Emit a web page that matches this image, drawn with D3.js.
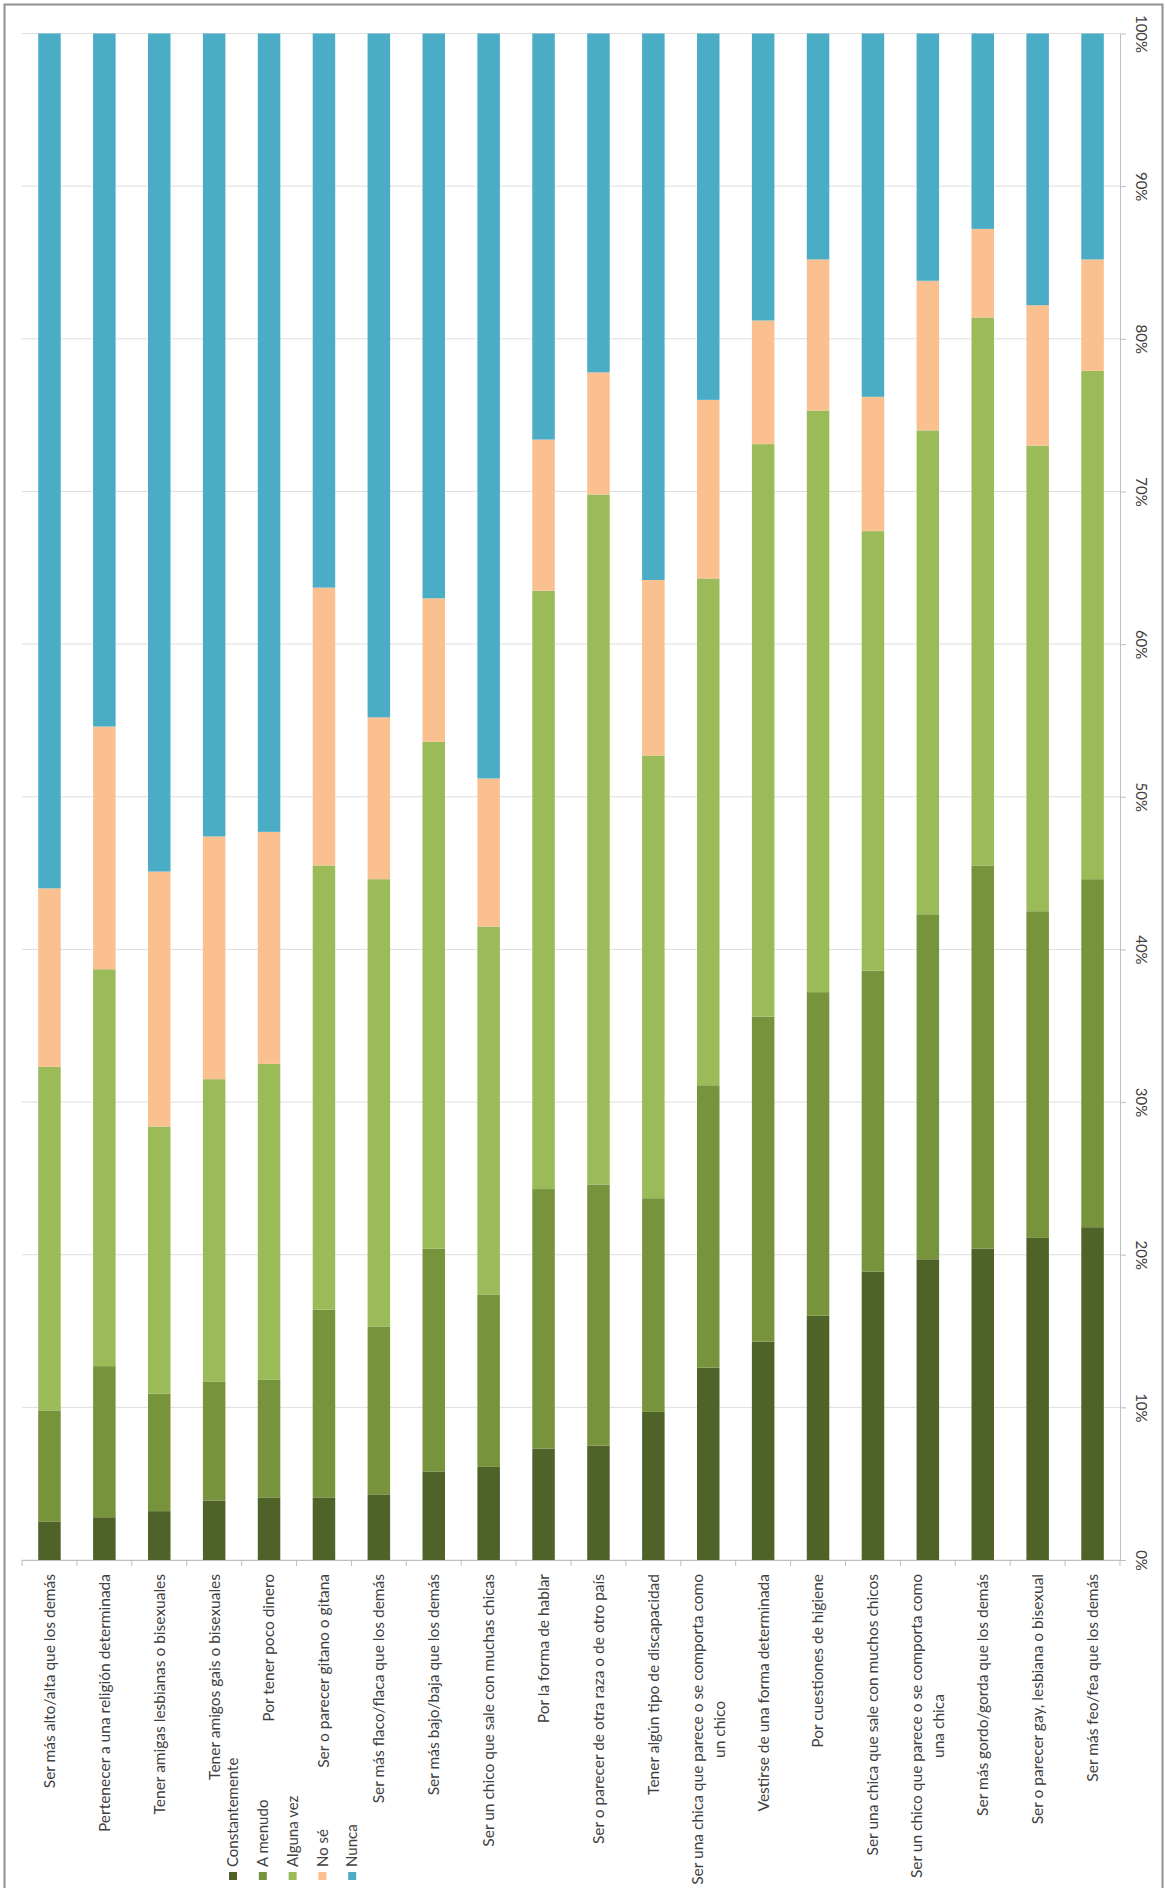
<!DOCTYPE html>
<html>
<head>
<meta charset="utf-8">
<script src="https://cdn.jsdelivr.net/npm/d3@7"></script>
<style>
  html, body { margin: 0; padding: 0; background: #fff; }
  svg { display: block; }
  text { font-family: Lato, "Open Sans", sans-serif; fill: #404040; }
</style>
</head>
<body>
<svg id="chart" width="1167" height="1888"></svg>
<script>
// Motivos de acoso: distribución de respuestas (%) por motivo
const categories = [
  "Ser más alto/alta que los demás",
  "Pertenecer a una religión determinada",
  "Tener amigas lesbianas o bisexuales",
  "Tener amigos gais o bisexuales",
  "Por tener poco dinero",
  "Ser o parecer gitano o gitana",
  "Ser más flaco/flaca que los demás",
  "Ser más bajo/baja que los demás",
  "Ser un chico que sale con muchas chicas",
  "Por la forma de hablar",
  "Ser o parecer de otra raza o de otro país",
  "Tener algún tipo de discapacidad",
  "Ser una chica que parece o se comporta como\nun chico",
  "Vestirse de una forma determinada",
  "Por cuestiones de higiene",
  "Ser una chica que sale con muchos chicos",
  "Ser un chico que parece o se comporta como\nuna chica",
  "Ser más gordo/gorda que los demás",
  "Ser o parecer gay, lesbiana o bisexual",
  "Ser más feo/fea que los demás"
];

const seriesNames = ["Constantemente", "A menudo", "Alguna vez", "No sé", "Nunca"];

const constantemente = [2.5, 2.8, 3.2, 3.9, 4.1, 4.1, 4.3, 5.8, 6.1, 7.3, 7.5, 9.7, 12.6, 14.3, 16.0, 18.9, 19.7, 20.4, 21.1, 21.8];
const aMenudo        = [7.3, 9.9, 7.7, 7.8, 7.7, 12.3, 11.0, 14.6, 11.3, 17.0, 17.1, 14.0, 18.5, 21.3, 21.2, 19.7, 22.6, 25.1, 21.4, 22.8];
const algunaVez      = [22.5, 26.0, 17.5, 19.8, 20.7, 29.1, 29.3, 33.2, 24.1, 39.2, 45.2, 29.0, 33.2, 37.5, 38.1, 28.8, 31.7, 35.9, 30.5, 33.3];
const noSe           = [11.7, 15.9, 16.7, 15.9, 15.2, 18.2, 10.6, 9.4, 9.7, 9.9, 8.0, 11.5, 11.7, 8.1, 9.9, 8.8, 9.8, 5.8, 9.2, 7.3];
const nunca          = [56.0, 45.4, 54.9, 52.6, 52.3, 36.3, 44.8, 37.0, 48.8, 26.6, 22.2, 35.8, 24.0, 18.8, 14.8, 23.8, 16.2, 12.8, 17.8, 14.8];

const valueTicks = [0, 0.1, 0.2, 0.3, 0.4, 0.5, 0.6, 0.7, 0.8, 0.9, 1];

const colors = ["#4F6228", "#77933C", "#9BBB59", "#FAC090", "#4BACC6"];

const seriesValues = [constantemente, aMenudo, algunaVez, noSe, nunca];
const rows = categories.map((c, i) => {
  const r = { category: c };
  seriesNames.forEach((s, k) => { r[s] = seriesValues[k][i]; });
  return r;
});

const svg = d3.select("#chart");

// outer frame
svg.append("rect")
  .attr("x", 4.5).attr("y", 4.5)
  .attr("width", 1158).attr("height", 1905)
  .attr("fill", "none").attr("stroke", "#8f8f8f").attr("stroke-width", 2);

const plot = { left: 22, right: 1120, top: 33.5, bottom: 1560 };

const x = d3.scaleBand()
  .domain(categories)
  .range([plot.left, plot.right])
  .paddingInner(0.59)
  .paddingOuter(0.295);

const y = d3.scaleLinear()
  .domain([0, 1])
  .range([plot.bottom, plot.top]);

const color = d3.scaleOrdinal().domain(seriesNames).range(colors);

// horizontal gridlines
svg.append("g")
  .selectAll("line")
  .data(valueTicks)
  .join("line")
  .attr("x1", plot.left).attr("x2", plot.right)
  .attr("y1", d => y(d)).attr("y2", d => y(d))
  .attr("stroke", "#dedede").attr("stroke-width", 1);

// stacked 100% bars
const stacked = d3.stack()
  .keys(seriesNames)
  .offset(d3.stackOffsetExpand)(rows);

svg.append("g")
  .selectAll("g")
  .data(stacked)
  .join("g")
  .attr("fill", d => color(d.key))
  .selectAll("rect")
  .data(d => d)
  .join("rect")
  .attr("x", d => x(d.data.category))
  .attr("width", x.bandwidth())
  .attr("y", d => y(d[1]))
  .attr("height", d => y(d[0]) - y(d[1]));

// value axis on the right
const yAxis = svg.append("g")
  .attr("transform", `translate(${plot.right},0)`)
  .call(d3.axisRight(y).tickValues(valueTicks).tickFormat(d3.format(".0%")).tickSizeInner(6).tickSizeOuter(0));
yAxis.select(".domain").attr("stroke", "#bfbfbf");
yAxis.selectAll(".tick line").attr("stroke", "#bfbfbf");
yAxis.selectAll(".tick text")
  .attr("x", null).attr("y", null).attr("dy", "0.35em")
  .attr("text-anchor", "middle")
  .attr("transform", "translate(21,0) rotate(90)")
  .style("font-family", "Lato, 'Open Sans', sans-serif")
  .style("font-size", "15px")
  .attr("fill", "#404040");

// category axis line and ticks between categories
const xAxis = svg.append("g")
  .attr("transform", `translate(0,${plot.bottom})`)
  .call(d3.axisBottom(x).tickSize(0).tickFormat(""));
xAxis.select(".domain").attr("stroke", "#bfbfbf");

const boundaries = d3.range(categories.length + 1).map(i => plot.left + i * x.step());
svg.append("g")
  .selectAll("line")
  .data(boundaries)
  .join("line")
  .attr("x1", d => d).attr("x2", d => d)
  .attr("y1", plot.bottom).attr("y2", plot.bottom + 6)
  .attr("stroke", "#bfbfbf");

// rotated category labels
const labelTop = 1574;
const lineH = 22;
const labels = svg.append("g")
  .selectAll("text")
  .data(categories)
  .join("text")
  .attr("text-anchor", "middle")
  .style("font-size", "15.5px");

labels.each(function (c) {
  const t = d3.select(this);
  const lines = c.split("\n");
  lines.forEach((ln, i) => {
    t.append("tspan")
      .attr("x", 0)
      .attr("y", (i - (lines.length - 1) / 2) * lineH)
      .attr("dy", "0.35em")
      .text(ln);
  });
  let maxLen = 0;
  t.selectAll("tspan").each(function () { maxLen = Math.max(maxLen, this.getComputedTextLength()); });
  const cx = x(c) + x.bandwidth() / 2;
  t.attr("transform", `translate(${cx},${labelTop + maxLen / 2}) rotate(-90)`);
});

// legend
const legend = svg.append("g")
  .selectAll("g")
  .data(seriesNames)
  .join("g")
  .attr("transform", (d, i) => `translate(${233 + i * 29.8},1876)`);

legend.append("rect")
  .attr("x", -4).attr("y", -4)
  .attr("width", 8).attr("height", 8)
  .attr("fill", d => color(d));

legend.append("text")
  .attr("transform", "translate(0,-9) rotate(-90)")
  .attr("dy", "0.35em")
  .attr("text-anchor", "start")
  .style("font-size", "15px")
  .text(d => d);
</script>
</body>
</html>
